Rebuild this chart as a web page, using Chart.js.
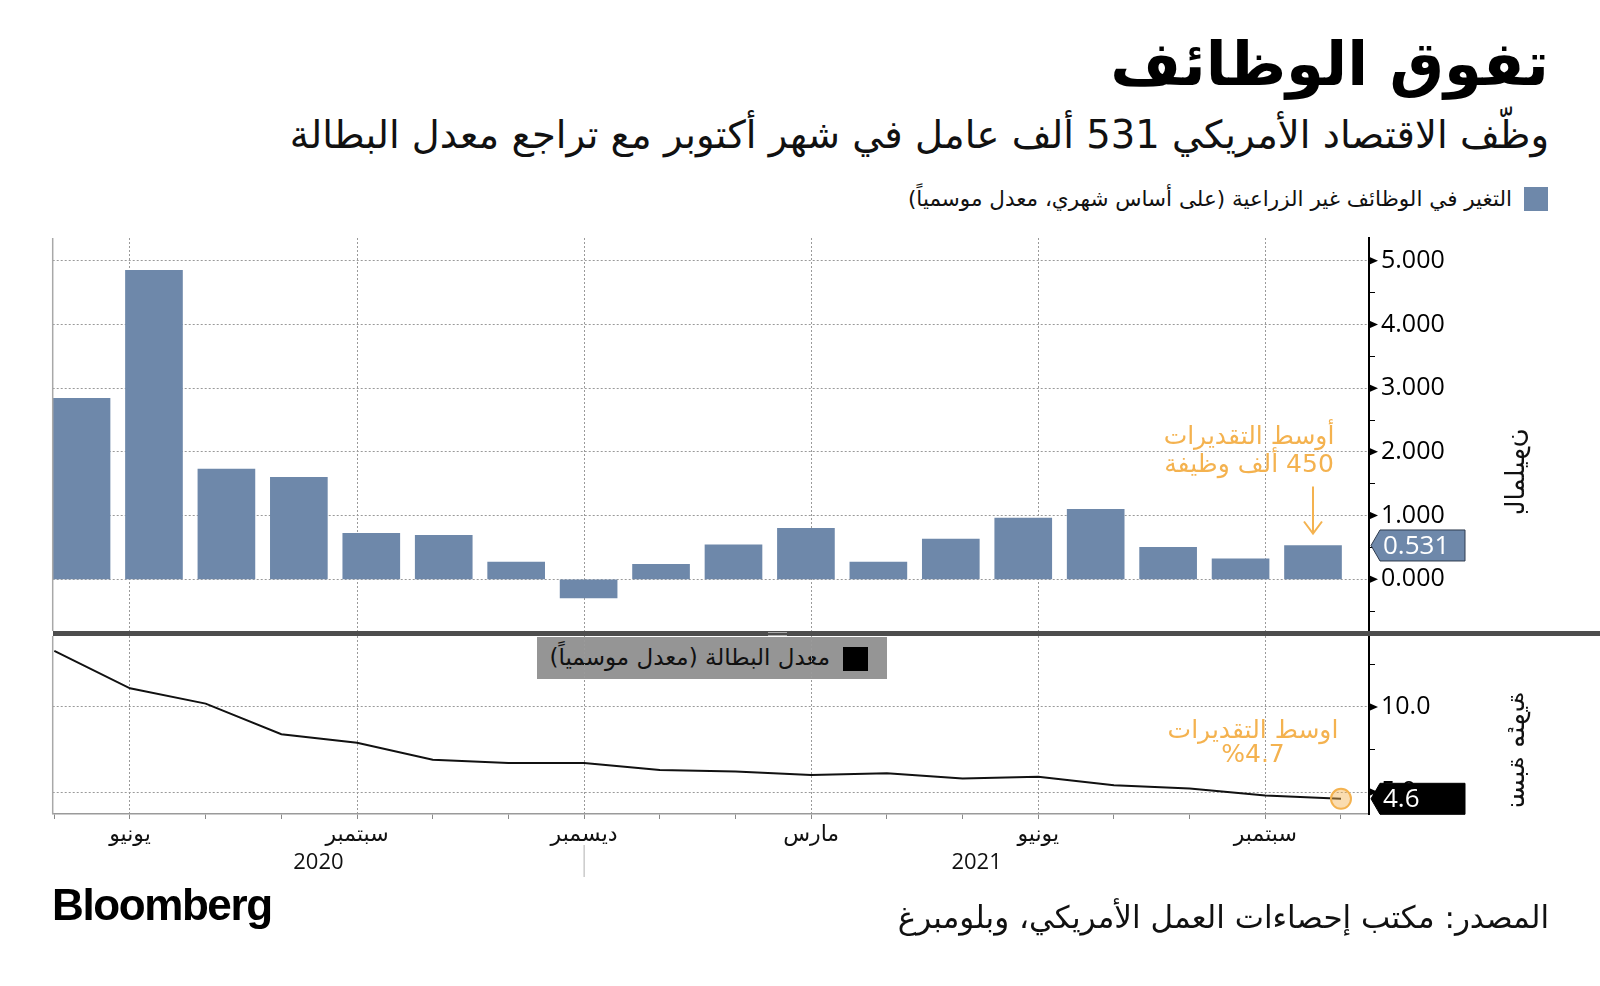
<!DOCTYPE html>
<html lang="ar">
<head>
<meta charset="utf-8">
<script src="https://cdn.jsdelivr.net/npm/chart.js@4.4.1/dist/chart.umd.min.js"></script>
<style>
  body { margin: 0; background: #fff; }
  #page { position: relative; width: 1600px; height: 986px; overflow: hidden; font-family: "DejaVu Sans", sans-serif; color: #111; }
  .rtl { position: absolute; direction: rtl; white-space: nowrap; line-height: 1; }
  canvas { position: absolute; left: 0; top: 0; }
  #title { right: 51px; top: 33px; font-size: 61px; font-weight: bold; color: #000; }
  #subtitle { right: 51px; top: 116px; font-size: 38.5px; }
  #legend1 { right: 88px; top: 188px; font-size: 21.5px; }
  #swatch1 { position: absolute; left: 1524px; top: 187px; width: 24px; height: 24px; background: #6e88aa; }
  #legend2 { position: absolute; left: 537px; top: 637px; width: 350px; height: 42px; background: #959595; }
  #legend2 .sq { position: absolute; left: 306px; top: 10px; width: 25px; height: 24px; background: #000; }
  #legend2 .txt { right: 57px; top: 9px; font-size: 23px; color: #111; }
  #divider { position: absolute; left: 53px; top: 631px; width: 1547px; height: 5px; background: #4d4d4d; }
  #handle { position: absolute; left: 768px; top: 632px; width: 19px; height: 2px; border-top: 1px solid #aaa; border-bottom: 1px solid #aaa; }
  #source { right: 51px; top: 902px; font-size: 31px; }
  #logo { position: absolute; left: 52px; top: 883px; font-family: "Liberation Sans", Arial, sans-serif; font-weight: bold; font-size: 44px; letter-spacing: -1.4px; color: #000; line-height: 1; }
</style>
</head>
<body>
<div id="page">
  <div id="title" class="rtl">تفوق الوظائف</div>
  <div id="subtitle" class="rtl">وظّف الاقتصاد الأمريكي 531 ألف عامل في شهر أكتوبر مع تراجع معدل البطالة</div>
  <div id="swatch1"></div>
  <div id="legend1" class="rtl">التغير في الوظائف غير الزراعية (على أساس شهري، معدل موسمياً)</div>
  <div id="legend2"><div class="sq"></div><div class="txt rtl">معدل البطالة (معدل موسمياً)</div></div>
  <canvas id="jobs" width="1600" height="986"></canvas>
  <canvas id="rate" width="1600" height="986"></canvas>
  <div id="divider"></div>
  <div id="handle"></div>
  <div id="source" class="rtl">المصدر: مكتب إحصاءات العمل الأمريكي، وبلومبرغ</div>
  <div id="logo">Bloomberg</div>
</div>
<script>
// الأشهر من مايو 2020 إلى أكتوبر 2021
const months = ['مايو', 'يونيو', 'يوليو', 'أغسطس', 'سبتمبر', 'أكتوبر', 'نوفمبر', 'ديسمبر', 'يناير', 'فبراير',
  'مارس', 'أبريل', 'مايو', 'يونيو', 'يوليو', 'أغسطس', 'سبتمبر', 'أكتوبر'];
const labelledMonths = [1, 4, 7, 10, 13, 16];
const years = ['2020', '2021'];
const yearBreak = 7;

// التغير في الوظائف (بالمليون)
const payrolls = [2.84, 4.85, 1.73, 1.60, 0.72, 0.69, 0.27, -0.29, 0.235, 0.54, 0.80, 0.27, 0.63, 0.96, 1.10, 0.50, 0.32, 0.531];
// معدل البطالة (%)
const unemployment = [13.3, 11.1, 10.2, 8.4, 7.9, 6.9, 6.7, 6.7, 6.3, 6.2, 6.0, 6.1, 5.8, 5.9, 5.4, 5.2, 4.8, 4.6];

const jobTicksMajor = [0, 1, 2, 3, 4, 5];
const jobTicksMinor = [-0.5, 0.5, 1.5, 2.5, 3.5, 4.5];
const rateTicksMajor = [5, 10];
const rateTicksMinor = [7.5, 12.5];

const BAR = '#6e88aa';
const ORANGE = '#f4b24f';
const GRID = '#9a9a9a';
const NUM_FONT = '"Open Sans", "DejaVu Sans", sans-serif';
const AR_FONT = '"DejaVu Sans", sans-serif';

const monthIdx = months.map((_, i) => i);
const sortNum = arr => arr.slice().sort((a, b) => a - b);

function arrowMark(ctx, x, y) {
  ctx.fillStyle = '#000';
  ctx.beginPath();
  ctx.moveTo(x, y - 4);
  ctx.lineTo(x + 9, y);
  ctx.lineTo(x, y + 4);
  ctx.closePath();
  ctx.fill();
}

function valueTag(ctx, x, y, text, fill, stroke) {
  ctx.beginPath();
  ctx.moveTo(x + 2, y);
  ctx.lineTo(x + 11, y - 15.5);
  ctx.lineTo(x + 96, y - 15.5);
  ctx.lineTo(x + 96, y + 15.5);
  ctx.lineTo(x + 11, y + 15.5);
  ctx.closePath();
  ctx.fillStyle = fill;
  ctx.fill();
  ctx.lineWidth = 1;
  ctx.strokeStyle = stroke;
  ctx.stroke();
  ctx.fillStyle = '#fff';
  ctx.font = '26px ' + NUM_FONT;
  ctx.textAlign = 'left';
  ctx.textBaseline = 'middle';
  ctx.fillText(text, x + 14, y + 1);
}

function axisTitle(ctx, text, x, y) {
  ctx.save();
  ctx.translate(x, y);
  ctx.rotate(Math.PI / 2);
  ctx.scale(1, -1);
  ctx.font = '26px ' + AR_FONT;
  ctx.fillStyle = '#111';
  ctx.textAlign = 'center';
  ctx.textBaseline = 'middle';
  ctx.direction = 'rtl';
  ctx.fillText(text, 0, 0);
  ctx.restore();
}

function frameLeft(ctx, a) {
  ctx.strokeStyle = '#a8a8a8';
  ctx.lineWidth = 1.5;
  ctx.beginPath();
  ctx.moveTo(a.left, a.top);
  ctx.lineTo(a.left, a.bottom);
  ctx.stroke();
}

const jobsDeco = {
  id: 'jobsDeco',
  afterDraw(chart) {
    const { ctx, chartArea: a, scales } = chart;
    ctx.save();
    frameLeft(ctx, a);
    jobTicksMajor.forEach(v => arrowMark(ctx, a.right, scales.y.getPixelForValue(v)));
    const last = payrolls.length - 1;
    const yp = scales.y.getPixelForValue(payrolls[last]);
    const xp = scales.x.getPixelForValue(last);
    valueTag(ctx, a.right, yp, payrolls[last].toFixed(3), BAR, '#2e3b4e');

    // سهم متوسط التقديرات
    ctx.strokeStyle = ORANGE;
    ctx.lineWidth = 2;
    const tip = yp - 12;
    ctx.beginPath();
    ctx.moveTo(xp, tip - 47);
    ctx.lineTo(xp, tip);
    ctx.moveTo(xp - 9, tip - 12);
    ctx.lineTo(xp, tip);
    ctx.lineTo(xp + 9, tip - 12);
    ctx.stroke();
    ctx.fillStyle = ORANGE;
    ctx.font = '25px ' + AR_FONT;
    ctx.textAlign = 'center';
    ctx.textBaseline = 'middle';
    ctx.direction = 'rtl';
    ctx.fillText('أوسط التقديرات', xp - 64, yp - 108);
    ctx.fillText('450 ألف وظيفة', xp - 64, yp - 80);

    axisTitle(ctx, 'بالمليون', 1517, 472);
    ctx.restore();
  }
};

const rateDeco = {
  id: 'rateDeco',
  afterDraw(chart) {
    const { ctx, chartArea: a, scales } = chart;
    ctx.save();
    frameLeft(ctx, a);
    rateTicksMajor.forEach(v => arrowMark(ctx, a.right, scales.y.getPixelForValue(v)));
    const last = unemployment.length - 1;
    const yp = scales.y.getPixelForValue(unemployment[last]);
    const xp = scales.x.getPixelForValue(last);
    valueTag(ctx, a.right, yp, unemployment[last].toFixed(1), '#000', '#000');

    ctx.fillStyle = ORANGE;
    ctx.font = '25px ' + AR_FONT;
    ctx.textAlign = 'center';
    ctx.textBaseline = 'middle';
    ctx.direction = 'rtl';
    ctx.fillText('اوسط التقديرات', xp - 88, yp - 67);
    ctx.fillText('%4.7', xp - 88, yp - 43);

    // السنوات
    const xb = scales.x.getPixelForValue(yearBreak);
    ctx.strokeStyle = '#b0b0b0';
    ctx.lineWidth = 1;
    ctx.beginPath();
    ctx.moveTo(xb, 845);
    ctx.lineTo(xb, 877);
    ctx.stroke();
    ctx.fillStyle = '#111';
    ctx.font = '22px ' + NUM_FONT;
    ctx.direction = 'ltr';
    ctx.fillText(years[0], (a.left + xb) / 2, 863);
    ctx.fillText(years[1], (xb + a.right) / 2, 863);

    axisTitle(ctx, 'نسبة مئوية', 1517, 750);
    ctx.restore();
  }
};

const majorColor = list => c => list.includes(c.tick.value) ? GRID : 'rgba(0,0,0,0)';

new Chart(document.getElementById('jobs'), {
  type: 'bar',
  data: {
    datasets: [{
      data: payrolls.map((v, i) => ({ x: i, y: v })),
      backgroundColor: BAR,
      borderWidth: 0,
      barThickness: 57,
      xAxisID: 'x',
      yAxisID: 'y'
    }]
  },
  options: {
    responsive: false,
    animation: false,
    events: [],
    layout: { padding: { top: 238, left: 52.7, right: 0, bottom: 355 } },
    plugins: { legend: { display: false }, tooltip: { enabled: false } },
    scales: {
      x: {
        type: 'linear', min: -0.398, max: 17.773, display: false,
        offset: false, grid: { offset: false }
      },
      xg: {
        type: 'linear', position: 'bottom', min: -0.021, max: 17.37, offset: false,
        afterBuildTicks: s => { s.ticks = labelledMonths.map(v => ({ value: v })); },
        afterFit: s => { s.height = 0; },
        ticks: { display: false },
        grid: { color: GRID, lineWidth: 1, drawTicks: false, offset: false },
        border: { display: false, dash: [2, 2] }
      },
      y: {
        type: 'linear', position: 'right', min: -0.811, max: 5.356,
        afterBuildTicks: s => { s.ticks = sortNum(jobTicksMajor.concat(jobTicksMinor)).map(v => ({ value: v })); },
        afterFit: s => { s.width = 231; },
        ticks: {
          autoSkip: false, padding: 6, color: '#000',
          font: { family: NUM_FONT, size: 25 },
          callback: v => jobTicksMajor.includes(v) ? v.toFixed(3) : ''
        },
        grid: { color: majorColor(jobTicksMajor), tickColor: '#000', tickLength: 6, lineWidth: 1 },
        border: { color: '#000', width: 2, dash: [2, 2] }
      }
    }
  },
  plugins: [jobsDeco]
});

new Chart(document.getElementById('rate'), {
  type: 'line',
  data: {
    datasets: [{
      data: unemployment.map((v, i) => ({ x: i, y: v })),
      borderColor: '#111',
      borderWidth: 2,
      tension: 0,
      pointRadius: c => c.dataIndex === unemployment.length - 1 ? 10 : 0,
      pointBackgroundColor: 'rgba(244,178,79,0.45)',
      pointBorderColor: ORANGE,
      pointBorderWidth: 2
    }]
  },
  options: {
    responsive: false,
    animation: false,
    events: [],
    layout: { padding: { top: 636, left: 52.7, right: 0, bottom: 0 } },
    plugins: { legend: { display: false }, tooltip: { enabled: false } },
    scales: {
      x: {
        type: 'linear', position: 'bottom', min: -0.021, max: 17.37, offset: false,
        afterBuildTicks: s => { s.ticks = monthIdx.map(v => ({ value: v })); },
        afterFit: s => { s.height = 172; },
        ticks: {
          autoSkip: false, maxRotation: 0, padding: 3, color: '#111',
          font: { family: AR_FONT, size: 22 },
          callback: v => labelledMonths.includes(v) ? months[v] : ''
        },
        grid: {
          color: c => labelledMonths.includes(c.tick.value) ? GRID : 'rgba(0,0,0,0)',
          tickColor: '#8a8a8a', tickLength: 5, lineWidth: 1, offset: false
        },
        border: { color: '#9a9a9a', width: 1.5, dash: [2, 2] }
      },
      y: {
        type: 'linear', position: 'right', min: 3.706, max: 14.176,
        afterBuildTicks: s => { s.ticks = sortNum(rateTicksMajor.concat(rateTicksMinor)).map(v => ({ value: v })); },
        afterFit: s => { s.width = 231; },
        ticks: {
          autoSkip: false, padding: 6, color: '#000',
          font: { family: NUM_FONT, size: 25 },
          callback: v => rateTicksMajor.includes(v) ? v.toFixed(1) : ''
        },
        grid: { color: majorColor(rateTicksMajor), tickColor: '#000', tickLength: 6, lineWidth: 1 },
        border: { color: '#000', width: 2, dash: [2, 2] }
      }
    }
  },
  plugins: [rateDeco]
});
</script>
</body>
</html>
